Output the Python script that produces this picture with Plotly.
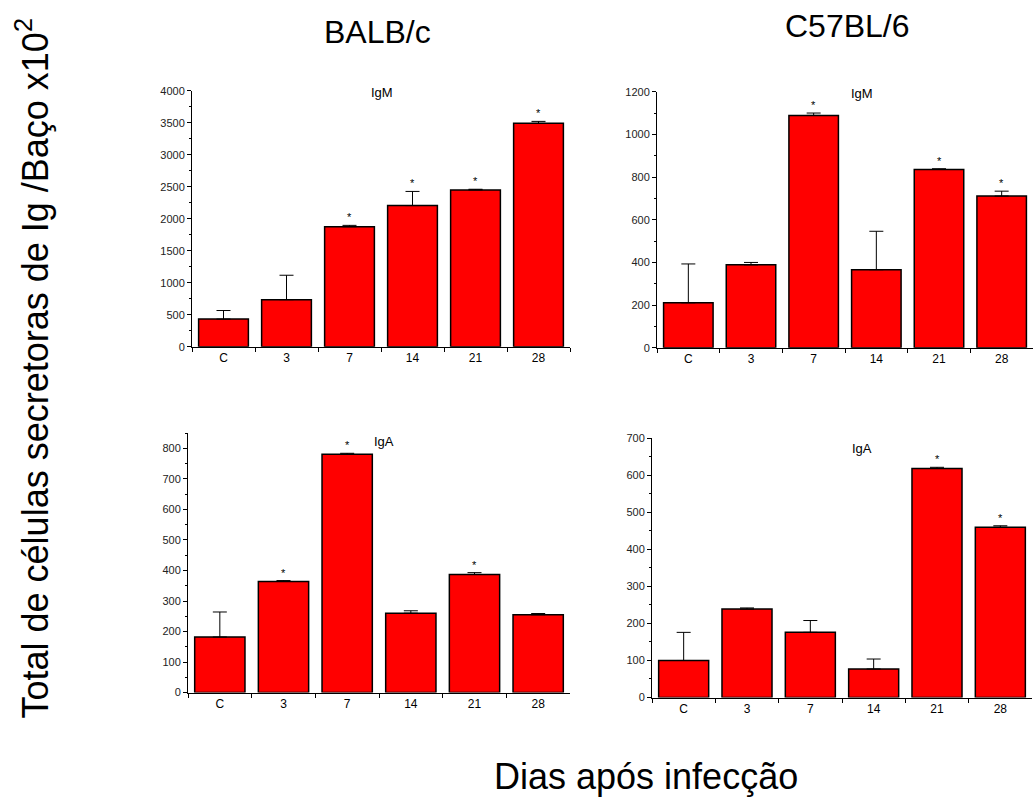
import plotly.graph_objects as go

categories = ["C", "3", "7", "14", "21", "28"]

# BALB/c IgM
balb_igm = [433, 737, 1876, 2206, 2451, 3490]
balb_igm_err = [567, 1118, 1897, 2427, 2461, 3521]
balb_igm_sig = [False, False, True, True, True, True]

# C57BL/6 IgM
c57_igm = [211, 389, 1089, 366, 836, 711]
c57_igm_err = [393, 400, 1100, 546, 839, 734]
c57_igm_sig = [False, False, True, False, True, True]

# BALB/c IgA
balb_iga = [182, 364, 781, 260, 387, 255]
balb_iga_err = [264, 367, 784, 268, 393, 259]
balb_iga_sig = [False, True, True, False, True, False]

# C57BL/6 IgA
c57_iga = [100, 239, 176, 77, 619, 460]
c57_iga_err = [176, 242, 208, 104, 622, 464]
c57_iga_sig = [False, False, False, False, True, True]

W, H = 1033, 803

def px(x):
    return x / W

def py(y):
    return 1 - y / H

panels = [
    dict(vals=balb_igm, err=balb_igm_err, sig=balb_igm_sig, title="IgM",
         xd=[px(192), px(570)], yd=[py(346), py(86)], yr=[0, 4000], dt=500, mdt=250,
         tx=382, ty=88),
    dict(vals=c57_igm, err=c57_igm_err, sig=c57_igm_sig, title="IgM",
         xd=[px(657), 1.0], yd=[py(347), py(87)], yr=[0, 1200], dt=200, mdt=100,
         tx=862, ty=89),
    dict(vals=balb_iga, err=balb_iga_err, sig=balb_iga_sig, title="IgA",
         xd=[px(188), px(570)], yd=[py(697), py(433)], yr=[0, 852], dt=100, mdt=50,
         tx=384, ty=442),
    dict(vals=c57_iga, err=c57_iga_err, sig=c57_iga_sig, title="IgA",
         xd=[px(652), px(1032)], yd=[py(702), py(439)], yr=[0, 700], dt=100, mdt=50,
         tx=862, ty=449),
]

fig = go.Figure()
annotations = []
font_family = "Liberation Sans, Arial, sans-serif"

for i, p in enumerate(panels):
    n = "" if i == 0 else str(i + 1)
    xa = "x" + n
    ya = "y" + n
    plus = [e - v for e, v in zip(p["err"], p["vals"])]
    fig.add_trace(go.Bar(
        x=categories, y=p["vals"], xaxis=xa, yaxis=ya,
        width=0.79,
        marker=dict(color="#ff0000", line=dict(color="black", width=1.5)),
        error_y=dict(type="data", symmetric=False, array=plus,
                     arrayminus=[0] * len(plus), color="black",
                     thickness=1, width=7),
        showlegend=False,
    ))
    fig.update_layout(**{
        ("xaxis" + n): dict(domain=p["xd"], anchor=ya, range=[-0.5, 5.5],
                            type="category",
                            showline=True, linecolor="black", linewidth=1,
                            ticks="outside", ticklen=4, tickcolor="black",
                            tickson="boundaries", showgrid=False,
                            tickfont=dict(size=12, color="black", family=font_family)),
        ("yaxis" + n): dict(domain=p["yd"], anchor=xa, range=p["yr"],
                            showline=True, linecolor="black", linewidth=1,
                            ticks="outside", ticklen=4, tickcolor="black",
                            dtick=p["dt"], tick0=0, showgrid=False, zeroline=False,
                            minor=dict(ticks="outside", ticklen=2, dtick=p["mdt"],
                                       tickcolor="black", showgrid=False),
                            tickfont=dict(size=11, color="#222", family=font_family)),
    })
    for k, (e, s) in enumerate(zip(p["err"], p["sig"])):
        if s:
            annotations.append(dict(x=k, y=e, xref=xa, yref=ya, text="*",
                                    showarrow=False, yanchor="middle", yshift=8,
                                    font=dict(size=11, color="black", family=font_family)))
    annotations.append(dict(x=px(p["tx"]), y=py(p["ty"]), xref="paper", yref="paper",
                            text=p["title"], showarrow=False, xanchor="center",
                            yanchor="middle",
                            font=dict(size=13, color="black", family=font_family)))

annotations += [
    dict(x=px(377), y=py(26), xref="paper", yref="paper", text="BALB/c",
         showarrow=False, xanchor="center", yanchor="middle",
         font=dict(size=32, color="black", family=font_family)),
    dict(x=px(847), y=py(20), xref="paper", yref="paper", text="C57BL/6",
         showarrow=False, xanchor="center", yanchor="middle",
         font=dict(size=32, color="black", family=font_family)),
    dict(x=px(646), y=py(782), xref="paper", yref="paper", text="Dias após infecção",
         showarrow=False, xanchor="center", yanchor="middle",
         font=dict(size=36, color="black", family=font_family)),
    dict(x=px(32), y=py(368), xref="paper", yref="paper",
         text="Total de células secretoras de Ig /Baço x10<sup>2</sup>",
         showarrow=False, xanchor="center", yanchor="middle", textangle=-90,
         font=dict(size=36, color="black", family=font_family)),
]

fig.update_layout(
    width=W, height=H, margin=dict(l=0, r=0, t=0, b=0),
    paper_bgcolor="white", plot_bgcolor="white",
    annotations=annotations, bargap=0.2,
)

fig.write_html("out.html")
